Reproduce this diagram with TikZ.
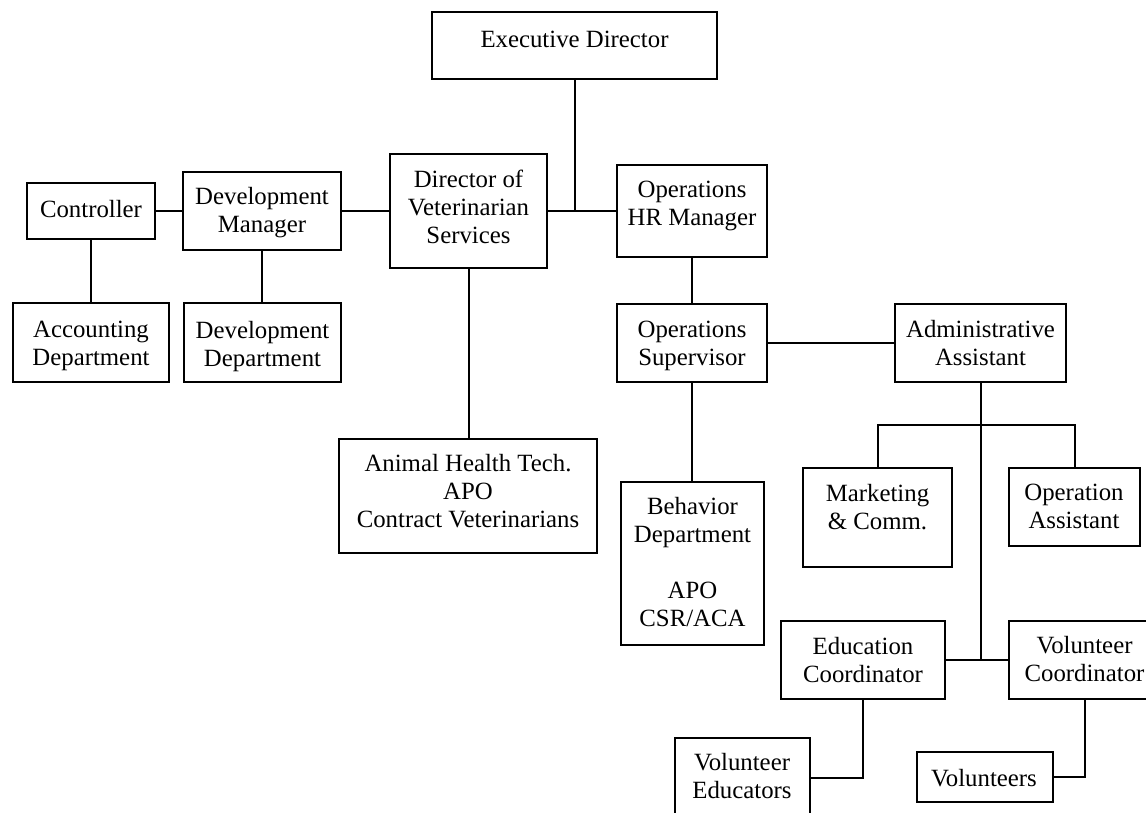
\documentclass[tikz,border=0pt]{standalone}
\usepackage{fontspec}
\setmainfont{Liberation Serif}
\newcommand{\orgbox}[5]{\node[box, minimum width={(#4)-(#2)}, minimum height={(#5)-(#3)}] (#1) at ({((#2)+(#4))/2},{((#3)+(#5))/2}) {};}
\begin{document}
\begin{tikzpicture}[x=1pt,y=-1pt,
  box/.style={draw, rectangle, line width=1.8pt, inner sep=0pt},
  txt/.style={align=center, inner sep=0pt, font=\fontsize{24.8}{28}\selectfont,
    execute at begin node=\strut, execute at end node=\strut},
  conn/.style={line width=2pt}]
\fill[white] (0,0) rectangle (1146,812);
\useasboundingbox (0,0) rectangle (1146,812);
% boxes
\orgbox{ed}{432}{12}{717}{79}
\orgbox{dv}{390}{154}{547}{268}
\orgbox{hr}{617}{165}{767}{257}
\orgbox{ct}{27}{183}{155}{239}
\orgbox{dm}{183}{172}{341}{250}
\orgbox{ac}{13}{303}{169}{382}
\orgbox{dd}{184}{303}{341}{382}
\orgbox{ah}{339}{439}{597}{553}
\orgbox{os}{617}{304}{767}{382}
\orgbox{aa}{895}{304}{1066}{382}
\orgbox{bd}{621}{482}{764}{645}
\orgbox{mk}{803}{468}{952}{567}
\orgbox{op}{1009}{468}{1140}{546}
\orgbox{ec}{781}{621}{945}{699}
\orgbox{vc}{1009}{621}{1160}{699}
\orgbox{ve}{675}{738}{810}{818}
\orgbox{vol}{917}{752}{1053}{802}
% texts
\node[txt] (edt) at (574.5,41.4) {Executive Director};
\node[txt] (dvt) at (468.5,210.5) {Director of\\Veterinarian\\Services};
\node[txt] (hrt) at (692,207.5) {Operations\\HR Manager};
\node[txt] (ctt) at (91,211.4) {Controller};
\node[txt] (dmt) at (262,214) {Development\\Manager};
\node[txt] (act) at (91,347.7) {Accounting\\Department};
\node[txt] (ddt) at (262.5,347.7) {Development\\Department};
\node[txt] (aht) at (468,495) {Animal Health Tech.\\APO\\Contract Veterinarians};
\node[txt] (ost) at (692,347.2) {Operations\\Supervisor};
\node[txt] (aat) at (980.5,347.2) {Administrative\\Assistant};
\node[txt] (bdt) at (692.5,566) {Behavior\\Department\\[28pt]APO\\CSR/ACA};
\node[txt] (mkt) at (877.5,510.7) {Marketing\\\& Comm.};
\node[txt] (opt) at (1074,510.7) {Operation\\Assistant};
\node[txt] (ect) at (863,663.6) {Education\\Coordinator};
\node[txt] (vct) at (1084.5,663.5) {Volunteer\\Coordinator};
\node[txt] (vet) at (742,780.2) {Volunteer\\Educators};
\node[txt] (volt) at (984,781) {Volunteers};
% connectors
\coordinate (bus) at (980.5,425);
\draw[conn] (dv.east) -- (hr.west);
\draw[conn] (ed.south) -- (ed.south |- dv.east);
\draw[conn] (dm.east) -- (dv.west);
\draw[conn] (ct.east) -- (dm.west);
\draw[conn] (ct.south) -- (ac.north -| ct.south);
\draw[conn] (dm.south) -- (dd.north -| dm.south);
\draw[conn] (dv.south) -- (ah.north -| dv.south);
\draw[conn] (hr.south) -- (os.north);
\draw[conn] (os.east) -- (aa.west);
\draw[conn] (os.south) -- (bd.north -| os.south);
\draw[conn] (aa.south) -- (aa.south |- ec.east);
\draw[conn] (mk.north) -- (mk.north |- bus) -| (op.north);
\draw[conn] (ec.east) -- (vc.west);
\draw[conn] (ec.south) |- (ve.east);
\draw[conn] (vc.south) |- (vol.east);
\end{tikzpicture}
\end{document}
